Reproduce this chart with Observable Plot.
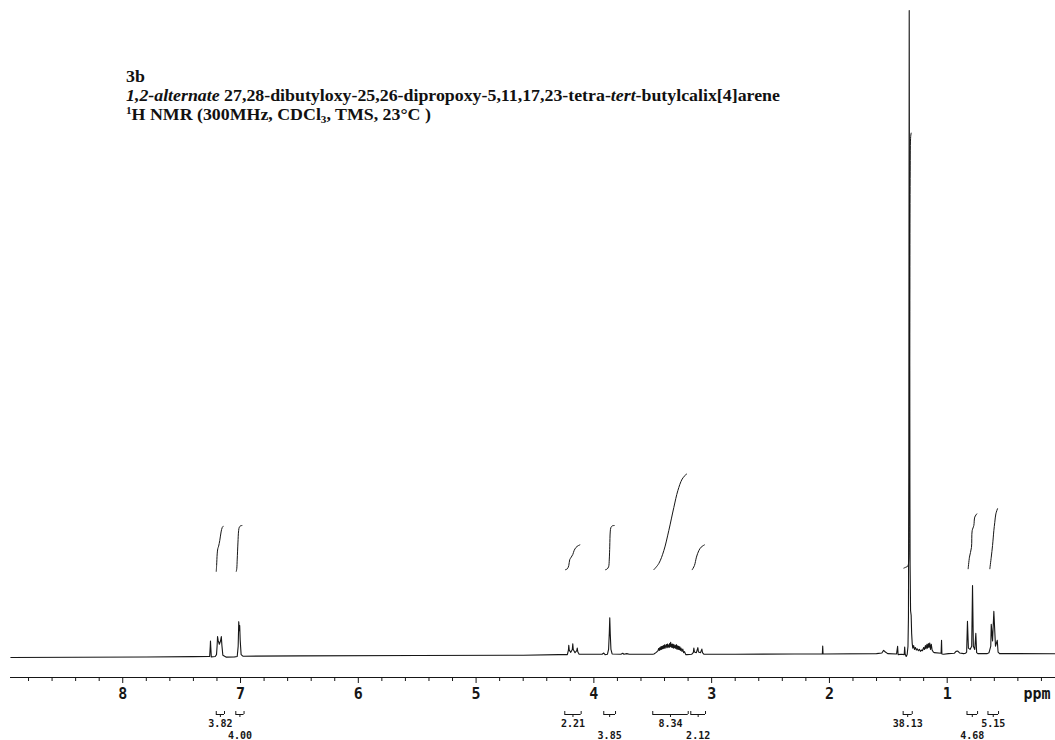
<!DOCTYPE html>
<html>
<head>
<meta charset="utf-8">
<script src="https://cdn.jsdelivr.net/npm/d3@7"></script>
<script src="https://cdn.jsdelivr.net/npm/@observablehq/plot@0.6"></script>
<style>
  body { margin: 0; background: #fff; }
  #chart { position: relative; width: 1055px; height: 740px; }
  #title {
    position: absolute; left: 126px; top: 67px;
    font-family: "Liberation Serif", "Times New Roman", serif;
    font-weight: bold; font-size: 16px; line-height: 19px;
    color: #111; white-space: nowrap;
    transform: scaleX(1.115); transform-origin: 0 0;
  }
  #title .sup, #title .sub { font-size: 10px; line-height: 0; position: relative; }
  #title .sup { top: -6px; }
  #title .sub { top: 3px; }
</style>
</head>
<body>
<div id="chart">
  <div id="title">
    3b<br>
    <i>1,2-alternate</i> 27,28-dibutyloxy-25,26-dipropoxy-5,11,17,23-tetra-<i>tert</i>-butylcalix[4]arene<br>
    <span class="sup">1</span>H NMR (300MHz, CDCl<span class="sub">3</span>, TMS, 23°C )
  </div>
</div>
<script>
// 1H NMR trace (chemical shift in ppm, relative intensity; tallest line = 100)
const shift = [
  8.95, 7.80, 7.40, 7.27, 7.262, 7.257, 7.255, 7.253, 7.248, 7.215,
  7.204, 7.199, 7.195, 7.190, 7.180, 7.170, 7.163, 7.158, 7.150, 7.12,
  7.05, 7.028, 7.020, 7.015, 7.011, 7.007, 7.003, 6.995, 6.98, 6.50,
  5.50, 4.60, 4.30, 4.225, 4.216, 4.213, 4.209, 4.196, 4.183, 4.179,
  4.175, 4.160, 4.145, 4.141, 4.136, 4.125, 4.00, 3.93, 3.916, 3.905,
  3.885, 3.875, 3.869, 3.865, 3.861, 3.855, 3.845, 3.77, 3.755, 3.745,
  3.72, 3.70, 3.50, 3.49, 3.47, 3.455, 3.45, 3.444, 3.44, 3.435,
  3.43, 3.425, 3.42, 3.415, 3.41, 3.405, 3.40, 3.395, 3.39, 3.385,
  3.38, 3.375, 3.37, 3.365, 3.36, 3.357, 3.352, 3.348, 3.343, 3.338,
  3.335, 3.33, 3.325, 3.32, 3.315, 3.31, 3.305, 3.30, 3.295, 3.29,
  3.285, 3.28, 3.275, 3.27, 3.265, 3.26, 3.252, 3.245, 3.238, 3.23,
  3.22, 3.21, 3.17, 3.155,
  3.151, 3.146, 3.13, 3.117, 3.112, 3.095, 3.083, 3.078, 3.065, 2.80,
  2.30, 2.06, 2.057, 2.054, 1.60, 1.555, 1.540, 1.525, 1.505, 1.43,
  1.421, 1.417, 1.39, 1.365, 1.361, 1.357, 1.348, 1.340, 1.333, 1.329,
  1.326, 1.3225, 1.319, 1.315, 1.311, 1.306, 1.302, 1.297, 1.292, 1.285,
  1.278, 1.27, 1.262, 1.255, 1.245, 1.235, 1.227, 1.218, 1.21, 1.200,
  1.193, 1.185, 1.18, 1.172, 1.167, 1.160, 1.155, 1.148, 1.142, 1.135,
  1.128, 1.118, 1.11, 1.052, 1.048, 1.045, 1.03, 0.99, 0.94, 0.925,
  0.91, 0.895, 0.86, 0.845, 0.835, 0.828, 0.820, 0.806, 0.792, 0.785,
  0.778, 0.766, 0.757, 0.750, 0.74, 0.66, 0.645, 0.630, 0.626, 0.615,
  0.604, 0.590, 0.575, 0.568, 0.555, 0.40, 0.08
];
const signal = [
  -0.25, -0.18, -0.12, -0.1, -0.1, 1.5, 2.29, 1.5, -0.15, -0.1,
  0.2, 1.5, 3.0, 2.4, 1.8, 2.3, 3.0, 1.6, 0.1, -0.2,
  -0.15, -0.1, 1.5, 5.3, 3.9, 4.7, 2.5, 0.2, -0.05, 0.0,
  0.05, 0.1, 0.2, 0.2, 0.9, 1.63, 0.9, 0.55, 1.0, 1.89,
  1.0, 0.5, 0.8, 1.21, 0.6, 0.25, 0.25, 0.25, 0.45, 0.2,
  0.25, 1.0, 3.5, 5.9, 3.5, 1.0, 0.3, 0.25, 0.4, 0.25,
  0.35, 0.25, 0.25, 0.3, 0.55, 0.8, 1.15, 0.85, 1.3, 0.95,
  1.45, 1.0, 1.5, 1.1, 1.6, 1.15, 1.7, 1.2, 1.55, 1.75,
  1.25, 1.85, 1.35, 1.7, 1.3, 1.9, 1.45, 2.1, 1.35, 1.8,
  1.3, 1.85, 1.2, 1.75, 1.25, 1.6, 1.15, 1.75, 1.05, 1.55,
  1.0, 1.5, 0.95, 1.4, 0.85, 1.2, 0.7, 1.05, 0.5, 0.65,
  0.2, 0.2, 0.25, 0.55,
  1.2, 0.6, 0.5, 1.27, 0.6, 0.5, 1.05, 0.5, 0.25, 0.25,
  0.3, 0.3, 1.52, 0.3, 0.35, 0.45, 0.85, 0.6, 0.35, 0.3,
  1.47, 0.2, 0.25, 0.2, 1.36, 0.3, -0.1, 0.2, 1.5, 6,
  30, 100, 45, 14, 7, 6.3, 3.5, 1.9, 1.2, 1.6,
  1.0, 1.3, 0.9, 1.1, 0.8, 1.0, 0.7, 0.9, 0.8, 1.3,
  1.0, 1.6, 1.1, 1.8, 1.2, 1.9, 1.3, 2.0, 1.0, 1.8,
  0.9, 0.6, 0.5, 0.4, 2.4, 0.3, 0.25, 0.35, 0.4, 0.7,
  0.75, 0.45, 0.35, 0.4, 0.6, 5.34, 1.2, 1.0, 1.5, 10.9,
  1.5, 1.0, 3.48, 0.5, 0.35, 0.35, 0.5, 1.5, 4.88, 2.3,
  6.89, 1.5, 2.4, 0.6, 0.35, 0.35, 0.34
];

// Integral traces drawn above each multiplet: [ppm, level]
const integralTraces = [
  [[7.206, 13.1], [7.203, 14.0], [7.198, 15.8], [7.193, 16.6], [7.186, 17.0], [7.176, 17.9], [7.165, 19.2], [7.155, 19.9], [7.146, 20.1]],
  [[7.036, 13.1], [7.032, 13.5], [7.028, 15.0], [7.022, 17.5], [7.016, 19.4], [7.010, 19.95], [7.000, 20.15], [6.988, 20.2]],
  [[4.241, 13.35], [4.225, 13.5], [4.213, 14.0], [4.205, 14.9], [4.192, 15.3], [4.179, 15.7], [4.168, 16.3], [4.152, 16.8], [4.135, 17.05], [4.119, 17.2]],
  [[3.901, 13.35], [3.888, 13.45], [3.875, 13.8], [3.869, 15.0], [3.865, 17.0], [3.861, 19.2], [3.855, 19.9], [3.843, 20.15], [3.827, 20.2]],
  [[3.491, 13.35], [3.449, 14.3], [3.406, 16.3], [3.364, 19.4], [3.321, 23.0], [3.287, 25.6], [3.250, 27.4], [3.213, 28.2]],
  [[3.165, 13.35], [3.146, 14.0], [3.129, 15.3], [3.109, 16.3], [3.089, 16.85], [3.061, 17.2]],
  [[1.368, 13.6], [1.350, 13.75], [1.335, 13.9], [1.327, 14.6], [1.322, 20], [1.318, 50], [1.314, 75], [1.310, 80.5], [1.306, 81]],
  [[0.822, 13.5], [0.811, 15.3], [0.794, 16.8], [0.788, 19.4], [0.774, 20.2], [0.766, 21.5], [0.749, 22.0]],
  [[0.638, 13.5], [0.626, 15.3], [0.615, 17.1], [0.604, 19.4], [0.596, 20.7], [0.587, 22.0], [0.573, 22.8]]
];

// Integration ranges and values printed under the axis
const integralFrom  = [7.206, 7.040, 4.247, 3.916, 3.500, 3.177, 1.374, 0.832, 0.654];
const integralTo    = [7.136, 6.970, 4.108, 3.816, 3.199, 3.052, 1.297, 0.742, 0.564];
const integralValue = ["3.82", "4.00", "2.21", "3.85", "8.34", "2.12", "38.13", "4.68", "5.15"];
const labelRow      = [0, 1, 0, 1, 0, 1, 0, 1, 0];

// Axis ticks (ppm)
const majorTicks = [1, 2, 3, 4, 5, 6, 7, 8];
const minorTicks = d3.range(1, 45).map(i => +(i * 0.2).toFixed(1)).filter(v => !Number.isInteger(v));

const spectrum = shift.map((s, i) => ({shift: s, signal: signal[i]}));
const integrals = integralTraces.flatMap((pts, k) => pts.map(([s, v]) => ({region: k, shift: s, level: v})));
const brackets = integralFrom.map((f, i) => ({
  from: f, to: integralTo[i], mid: (f + integralTo[i]) / 2, label: integralValue[i], row: labelRow[i]
}));

const ink = "#161616";
const yMin = -3.35;
const tickFont = "DejaVu Sans Mono, monospace";
const intFont = "DejaVu Sans Mono, monospace";

const chart = Plot.plot({
  width: 1055,
  height: 740,
  marginTop: 10,
  marginBottom: 63,
  marginLeft: 10,
  marginRight: 0,
  x: {domain: [8.953, 0.0805], axis: null},
  y: {domain: [yMin, 100], axis: null},
  marks: [
    Plot.ruleY([yMin], {stroke: ink, strokeWidth: 1}),
    Plot.axisX({ticks: minorTicks, tickSize: 4, tickFormat: () => "", label: null, stroke: ink}),
    Plot.axisX({
      ticks: majorTicks, tickSize: 6, tickPadding: 5, tickFormat: d => String(d), label: null,
      stroke: ink, fill: ink, fontSize: 15, fontWeight: "bold", fontFamily: tickFont
    }),
    Plot.text(["ppm"], {
      frameAnchor: "bottom-right", textAnchor: "end", lineAnchor: "middle", dx: -5, dy: 17,
      fontSize: 15, fontWeight: "bold", fontFamily: tickFont, fill: ink
    }),
    Plot.line(integrals, {x: "shift", y: "level", z: "region", curve: "catmull-rom", stroke: ink, strokeWidth: 1}),
    Plot.line(spectrum, {x: "shift", y: "signal", stroke: ink, strokeWidth: 1.1}),
    // integration brackets
    Plot.ruleY(brackets, {x1: "from", x2: "to", y: yMin, dy: 37, stroke: ink}),
    Plot.ruleX(brackets, {x: "from", y1: yMin, y2: yMin, dy: 37, insetTop: -3, stroke: ink}),
    Plot.ruleX(brackets, {x: "to", y1: yMin, y2: yMin, dy: 37, insetTop: -3, stroke: ink}),
    Plot.ruleX(brackets, {x: "mid", y1: yMin, y2: yMin, dy: 37, insetBottom: -3, stroke: ink}),
    Plot.text(brackets.filter(d => d.row === 0), {
      x: "mid", text: "label", frameAnchor: "bottom", lineAnchor: "middle", dy: 46,
      fontSize: 10, fontWeight: "bold", fontFamily: intFont, fill: ink
    }),
    Plot.text(brackets.filter(d => d.row === 1), {
      x: "mid", text: "label", frameAnchor: "bottom", lineAnchor: "middle", dy: 58,
      fontSize: 10, fontWeight: "bold", fontFamily: intFont, fill: ink
    })
  ]
});

document.getElementById("chart").prepend(chart);
</script>
</body>
</html>
